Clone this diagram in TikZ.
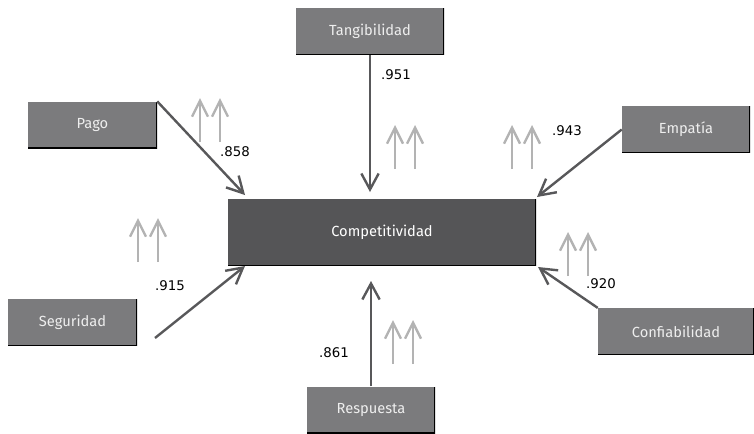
\documentclass[tikz,border=0pt]{standalone}
\usepackage{fontspec}
\setmainfont{Fira Sans}
\newfontfamily\numfont{DejaVu Sans}
\usetikzlibrary{arrows.meta}

\definecolor{boxgray}{HTML}{7B7B7D}
\definecolor{coregray}{HTML}{555557}
\definecolor{linkgray}{HTML}{58585A}
\definecolor{hintgray}{HTML}{B3B3B3}
\definecolor{boxtext}{HTML}{EEEEEE}

\tikzset{
  factor/.style={fill=boxgray, text=boxtext, inner sep=0pt,
    minimum width=96pt, minimum height=35pt, font=\fontsize{11}{13}\selectfont,
    path picture={\draw[black, line width=1.6pt]
      (path picture bounding box.north east) -- (path picture bounding box.south east)
      -- (path picture bounding box.south west);}},
  core/.style={factor, fill=coregray, text=white,
    minimum width=231pt, minimum height=50pt},
  link/.style={draw=linkgray, line width=1.8pt, -{Straight Barb[length=12pt,width=13pt]}},
  hint/.style={draw=hintgray, line width=1.8pt, -{Straight Barb[length=12pt,width=12pt]}},
  weight/.style={font=\numfont\fontsize{10}{12}\selectfont, inner sep=0pt}
}

\begin{document}
\begin{tikzpicture}[x=0.75pt, y=-0.75pt]
    \useasboundingbox (0,0) rectangle (754,433);

    % Central construct
    \node[core] (comp) at (382,232.5) {Competitividad};

    % Dimensions
    \node[factor, minimum width=111pt] (tang) at (370,31.5) {Tangibilidad};
    \node[factor, minimum width=96.75pt] (pago) at (92.5,125) {Pago};
    \node[factor] (emp) at (686,129.5) {Empatía};
    \node[factor, minimum width=96.75pt] (seg) at (72.5,322.5) {Seguridad};
    \node[factor, minimum width=117pt] (conf) at (676,331.5) {Confiabilidad};
    \node[factor] (resp) at (371,410) {Respuesta};

    % Arrow ends
    \coordinate (tipP) at (245,195);
    \coordinate (tipT) at (370,192);
    \coordinate (tipE) at (537,197);
    \coordinate (tipS) at (245,266);
    \coordinate (tipC) at (538,267);
    \coordinate (tipR) at (371,281);
    \coordinate (startS) at (155,338);

    % Paths
    \draw[link] (pago.north east) -- (tipP);
    \draw[link] (tang.south) -- (tipT);
    \draw[link] (emp.west) -- (tipE);
    \draw[link] (startS) -- (tipS);
    \draw[link] (conf.north west) -- (tipC);
    \draw[link] (resp.north) -- (tipR);

    % Loadings
    \node[weight] (w951) at (396,75) {.951};
    \node[weight] (w858) at (235,152) {.858};
    \node[weight] (w943) at (567,131) {.943};
    \node[weight] (w915) at (170,286) {.915};
    \node[weight] (w920) at (601,284) {.920};
    \node[weight] (w861) at (334,353) {.861};

    % Increase marks
    \foreach \x/\y in {200/98, 395/125, 512/125, 138/218, 568/232, 393/320} {
        \draw[hint] (\x,\y+44) -- (\x,\y);
        \draw[hint] (\x+20,\y+44) -- (\x+20,\y);
    }
\end{tikzpicture}
\end{document}
